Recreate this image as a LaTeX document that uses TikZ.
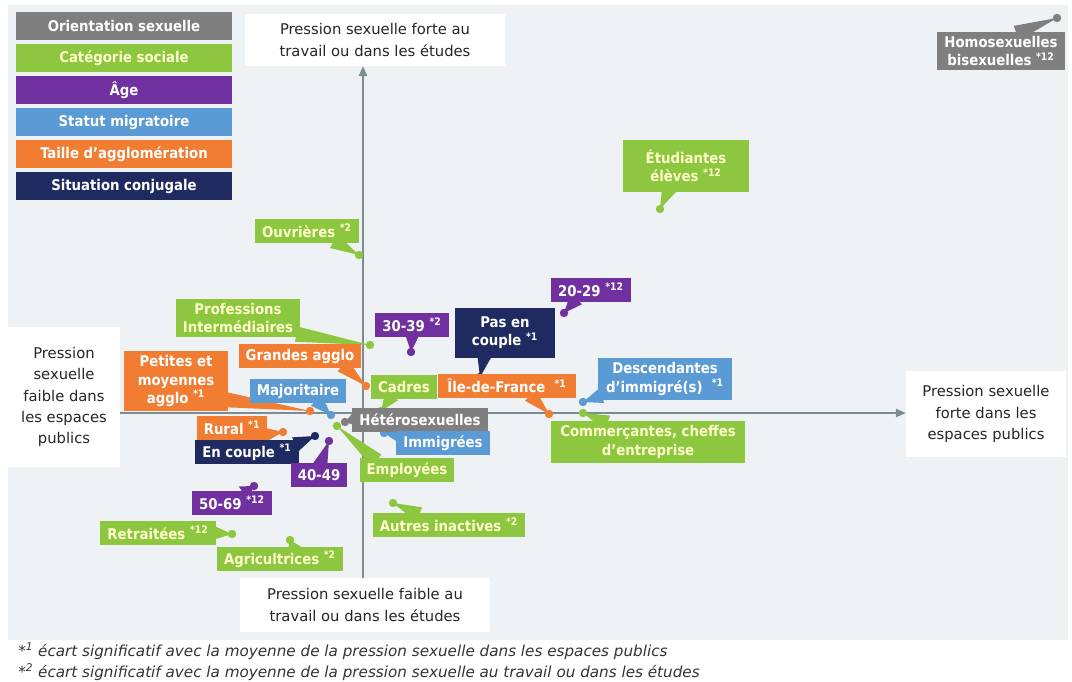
\documentclass[tikz,border=0pt]{standalone}
\usepackage{fontspec}
\setmainfont{DejaVu Sans Condensed}
\newfontfamily\largefont{DejaVu Sans}
\usetikzlibrary{arrows.meta,calc}
\definecolor{panel}{HTML}{EFF2F4}
\definecolor{axe}{HTML}{7D8B93}
\definecolor{gris}{HTML}{7F7F7F}
\definecolor{vert}{HTML}{8DC63F}
\definecolor{violet}{HTML}{7030A0}
\definecolor{bleu}{HTML}{5B9BD5}
\definecolor{orangeagg}{HTML}{F07D32}
\definecolor{marine}{HTML}{1F2A60}
\definecolor{pale}{HTML}{FFFFCC}
\pgfdeclarelayer{bg}
\pgfdeclarelayer{tails}
\pgfsetlayers{bg,tails,main}
\newcommand{\tail}[3]{%
    \path ($#2!-3pt!(#3)$) coordinate (tb);
    \fill[#1] ($(tb)!5.5pt!90:(#3)$) -- (#3.center) -- ($(tb)!5.5pt!-90:(#3)$) -- cycle;}
\begin{document}
\begin{tikzpicture}[x=0.025cm, y=-0.025cm,
    etiq/.style={fill=#1, text=white, font=\bfseries\fontsize{10.5}{13}\selectfont, align=center, inner xsep=5pt, inner ysep=3pt, minimum height=0.6cm},
    leg/.style={etiq=#1, minimum width=5.4cm, minimum height=0.7cm},
    spot/.style={circle, fill=#1, inner sep=0pt, minimum size=0.21cm},
    axlab/.style={fill=white, align=center, font=\largefont\fontsize{10.5}{15}\selectfont, text=black!85},
    note/.style={anchor=west, inner sep=0pt, font=\largefont\itshape\fontsize{10.8}{12}\selectfont, text=black!80},
    axis/.style={axe, line width=0.8pt, -{Triangle[length=7pt,width=6pt]}}]
    \useasboundingbox (0,0) rectangle (1072,682);
    \begin{pgfonlayer}{bg}
        \fill[panel] (8,5) rectangle (1068,640);
        \node[axlab, minimum width=6.5cm, minimum height=1.3cm] (haut) at (375,40) {Pression sexuelle forte au\\travail ou dans les études};
        \node[axlab, minimum width=6.25cm, minimum height=1.35cm] (bas) at (365,605) {Pression sexuelle faible au\\travail ou dans les études};
        \node[axlab, minimum width=2.8cm, minimum height=3.5cm] (gauche) at (64,397) {Pression\\sexuelle\\faible dans\\les espaces\\publics};
        \node[axlab, minimum width=4cm, minimum height=2.15cm] (droite) at (986,414) {Pression sexuelle\\forte dans les\\espaces publics};
        \coordinate (O) at (363,413);
        \draw[axis] (O -| gauche.east) -- (O -| droite.west);
        \draw[axis] (O |- bas.north) -- (O |- haut.south);
    \end{pgfonlayer}

    \node[leg=gris] (lorient) at (124,26) {Orientation sexuelle};
    \node[leg=vert, text=pale] (lcat) at (124,58) {Catégorie sociale};
    \node[leg=violet] (lage) at (124,90) {Âge};
    \node[leg=bleu] (lmig) at (124,122) {Statut migratoire};
    \node[leg=orangeagg] (ltaille) at (124,154) {Taille d’agglomération};
    \node[leg=marine] (lconj) at (124,186) {Situation conjugale};

    \node[spot=gris] (p-homo) at (1057,18) {};
    \node[spot=vert] (p-etud) at (660,209) {};
    \node[spot=vert] (p-ouv) at (359,255) {};
    \node[spot=violet] (p-2029) at (564,313) {};
    \node[spot=vert] (p-prof) at (370,345) {};
    \node[spot=violet] (p-3039) at (411,352) {};
    \node[spot=marine] (p-pasen) at (480,377) {};
    \node[spot=orangeagg] (p-grand) at (366,386) {};
    \node[spot=orangeagg] (p-petit) at (310,411) {};
    \node[spot=bleu] (p-major) at (331,415) {};
    \node[spot=vert] (p-cadres) at (381,411) {};
    \node[spot=orangeagg] (p-idf) at (549,414) {};
    \node[spot=bleu] (p-desc) at (583,402) {};
    \node[spot=vert] (p-comm) at (583,413) {};
    \node[spot=gris] (p-hetero) at (345,422) {};
    \node[spot=bleu] (p-immig) at (384,433) {};
    \node[spot=vert] (p-employ) at (337,426) {};
    \node[spot=orangeagg] (p-rural) at (283,432) {};
    \node[spot=marine] (p-encpl) at (315,436) {};
    \node[spot=violet] (p-4049) at (329,441) {};
    \node[spot=violet] (p-5069) at (254,486) {};
    \node[spot=vert] (p-retr) at (232,534) {};
    \node[spot=vert] (p-agri) at (290,540) {};
    \node[spot=vert] (p-autres) at (393,503) {};

    \node[etiq=gris, minimum width=3.05cm] (homo) at (1001,51) {Homosexuelles\\bisexuelles~\textsuperscript{*12}};
    \node[etiq=vert, text=pale, minimum width=3.15cm, minimum height=1.3cm] (etud) at (686,166) {Étudiantes\\élèves~\textsuperscript{*12}};
    \node[etiq=vert, text=pale] (ouv) at (307,231) {Ouvrières~\textsuperscript{*2}};
    \node[etiq=violet] (a2029) at (591,290) {20-29~\textsuperscript{*12}};
    \node[etiq=vert, text=pale, minimum width=3.1cm] (prof) at (238,318) {Professions\\Intermédiaires};
    \node[etiq=violet] (a3039) at (412,325) {30-39~\textsuperscript{*2}};
    \node[etiq=marine, minimum width=2.5cm, minimum height=1.25cm] (pasen) at (505,333) {Pas en\\couple~\textsuperscript{*1}};
    \node[etiq=orangeagg] (grand) at (300,356) {Grandes agglo};
    \node[etiq=orangeagg, minimum width=2.6cm] (petit) at (176,381) {Petites et\\moyennes\\agglo~\textsuperscript{*1}};
    \node[etiq=bleu] (major) at (298,391) {Majoritaire};
    \node[etiq=vert, text=pale] (cadres) at (404,387) {Cadres};
    \node[etiq=orangeagg, minimum width=3.45cm] (idf) at (507,386) {Île-de-France~~\textsuperscript{*1}};
    \node[etiq=bleu, minimum width=3.35cm] (desc) at (665,379) {Descendantes\\d’immigré(s)~~\textsuperscript{*1}};
    \node[etiq=vert, text=pale, minimum width=4.85cm] (comm) at (648,442) {Commerçantes, cheffes\\d’entreprise};
    \node[etiq=gris] (hetero) at (420,420) {Hétérosexuelles};
    \node[etiq=bleu] (immig) at (443,443) {Immigrées};
    \node[etiq=vert, text=pale] (employ) at (407,470) {Employées};
    \node[etiq=orangeagg] (rural) at (232,428) {Rural~\textsuperscript{*1}};
    \node[etiq=marine] (encpl) at (247,452) {En couple~\textsuperscript{*1}};
    \node[etiq=violet] (a4049) at (319,475) {40-49};
    \node[etiq=violet] (a5069) at (232,503) {50-69~\textsuperscript{*12}};
    \node[etiq=vert, text=pale] (retr) at (158,533) {Retraitées~\textsuperscript{*12}};
    \node[etiq=vert, text=pale] (agri) at (280,559) {Agricultrices~\textsuperscript{*2}};
    \node[etiq=vert, text=pale] (autres) at (449,525) {Autres inactives~\textsuperscript{*2}};

    \begin{pgfonlayer}{tails}
        \tail{gris}{(homo.45)}{p-homo}
        \tail{vert}{(etud.-125)}{p-etud}
        \tail{vert}{(ouv.-22)}{p-ouv}
        \tail{violet}{(a2029.-145)}{p-2029}
        \tail{vert}{(prof.-15)}{p-prof}
        \tail{violet}{(a3039.south)}{p-3039}
        \tail{marine}{(pasen.-130)}{p-pasen}
        \tail{orangeagg}{(grand.-15)}{p-grand}
        \tail{orangeagg}{(petit.-20)}{p-petit}
        \tail{bleu}{(major.-30)}{p-major}
        \tail{vert}{(cadres.-140)}{p-cadres}
        \tail{orangeagg}{(idf.-25)}{p-idf}
        \tail{bleu}{(desc.-165)}{p-desc}
        \tail{vert}{(comm.155)}{p-comm}
        \tail{gris}{(hetero.west)}{p-hetero}
        \tail{bleu}{(immig.170)}{p-immig}
        \tail{vert}{(employ.160)}{p-employ}
        \tail{orangeagg}{(rural.-10)}{p-rural}
        \tail{marine}{(encpl.10)}{p-encpl}
        \tail{violet}{(a4049.80)}{p-4049}
        \tail{violet}{(a5069.40)}{p-5069}
        \tail{vert}{(retr.east)}{p-retr}
        \tail{vert}{(agri.45)}{p-agri}
        \tail{vert}{(autres.160)}{p-autres}
    \end{pgfonlayer}

    \node[note] (n1) at (18,651) {*\textsuperscript{1} écart significatif avec la moyenne de la pression sexuelle dans les espaces publics};
    \node[note] (n2) at (18,672) {*\textsuperscript{2} écart significatif avec la moyenne de la pression sexuelle au travail ou dans les études};
\end{tikzpicture}
\end{document}
